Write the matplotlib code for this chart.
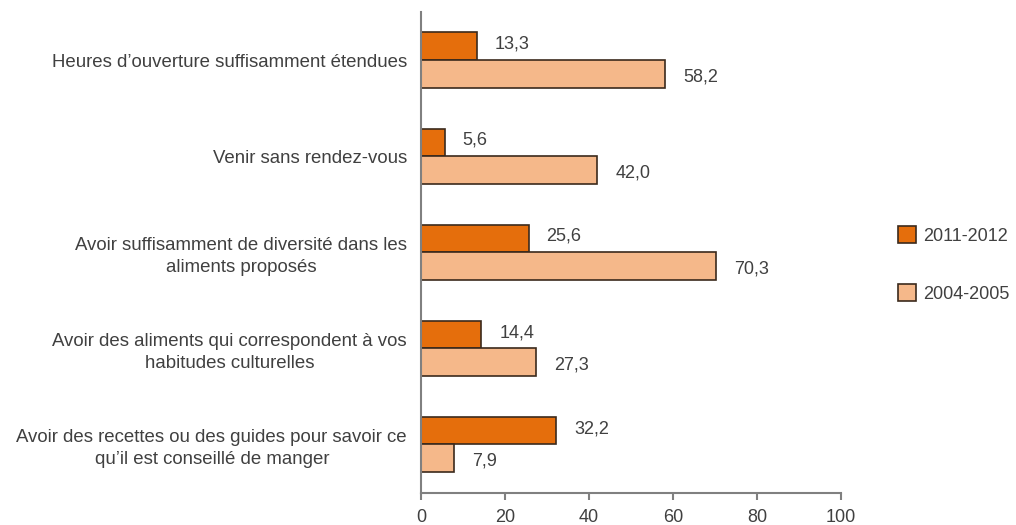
import matplotlib
matplotlib.use("Agg")
import matplotlib.pyplot as plt
from matplotlib.patches import Patch
import numpy as np

categories = [
    "Heures d’ouverture suffisamment étendues",
    "Venir sans rendez-vous",
    "Avoir suffisamment de diversité dans les\naliments proposés",
    "Avoir des aliments qui correspondent à vos\nhabitudes culturelles",
    "Avoir des recettes ou des guides pour savoir ce\nqu’il est conseillé de manger",
]
series_names = ["2011-2012", "2004-2005"]
values_2011 = [13.3, 5.6, 25.6, 14.4, 32.2]
values_2004 = [58.2, 42.0, 70.3, 27.3, 7.9]
xticks = [0, 20, 40, 60, 80, 100]

plt.rcParams['font.family'] = ['Liberation Sans', 'DejaVu Sans']
text_color = "#404040"
dark = "#E56E0C"
light = "#F5B88A"
edge = "#3b2a1c"

fig = plt.figure(figsize=(10.16, 5.25), dpi=100)
ax = fig.add_axes([421/1016, 1-492.5/525, (841-421)/1016, (492.5-12)/525])

y = np.arange(len(categories))
h = 0.287
ax.barh(y - h/2, values_2011, height=h, color=dark, edgecolor=edge, linewidth=1.2, label=series_names[0])
ax.barh(y + h/2, values_2004, height=h, color=light, edgecolor=edge, linewidth=1.2, label=series_names[1])

def fmt(v):
    return f"{v:.1f}".replace(".", ",")

for yi, v in zip(y - h/2, values_2011):
    ax.annotate(fmt(v), (v, yi), xytext=(18, 2), textcoords="offset pixels",
                va="center", ha="left", fontsize=13, color=text_color)
for yi, v in zip(y + h/2, values_2004):
    ax.annotate(fmt(v), (v, yi), xytext=(18, -3), textcoords="offset pixels",
                va="center", ha="left", fontsize=13, color=text_color)

ax.set_xlim(0, 100)
ax.set_ylim(len(categories) - 0.5, -0.5)
ax.set_xticks(xticks)
ax.set_xticklabels([str(t) for t in xticks], fontsize=13, color=text_color)
ax.set_yticks(y)
ax.set_yticklabels(categories, fontsize=13.4, color=text_color, multialignment="center",
                   linespacing=1.38)
ax.tick_params(axis="y", length=0, pad=10)
ax.tick_params(axis="x", length=5, color="#808080", width=1.5, pad=7)
for s in ["top", "right"]:
    ax.spines[s].set_visible(False)
for s in ["left", "bottom"]:
    ax.spines[s].set_color("#808080")
    ax.spines[s].set_linewidth(1.5)

handles = [Patch(facecolor=dark, edgecolor=edge, linewidth=1.2),
           Patch(facecolor=light, edgecolor=edge, linewidth=1.2)]
fig.legend(handles, series_names, loc="center left", bbox_to_anchor=(898/1016, 1-264.5/525),
           frameon=False, fontsize=13, labelcolor=text_color, handlelength=1.0, handleheight=1.0,
           handletextpad=0.4, labelspacing=2.2, borderpad=0, borderaxespad=0)

fig.savefig("out.png", dpi=100)
